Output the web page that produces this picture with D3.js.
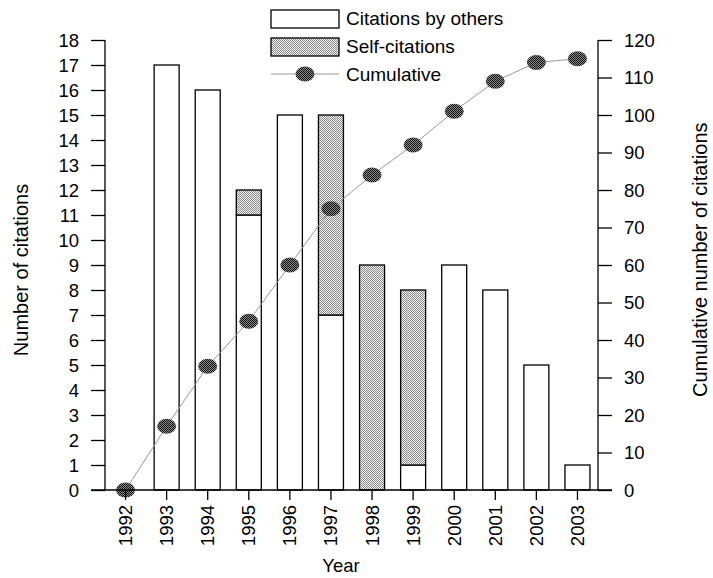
<!DOCTYPE html>
<html><head><meta charset="utf-8">
<script src="https://cdn.jsdelivr.net/npm/d3@7/dist/d3.min.js"></script>
<style>body{margin:0;background:#fff}svg{display:block}text{font-family:"Liberation Sans",Arial,sans-serif;fill:#000}</style>
</head><body>
<script>
const years = ["1992","1993","1994","1995","1996","1997","1998","1999","2000","2001","2002","2003"];
const byOthers = [0,17,16,11,15,7,0,1,9,8,5,1];
const selfCites = [0,0,0,1,0,8,9,7,0,0,0,0];
const cumulative = [0,17,33,45,60,75,84,92,101,109,114,115];
const leftTicks = d3.range(0,19);
const rightTicks = d3.range(0,121,10);

const W=713,H=578, L=105, R=598, T=40, B=490;
const svg=d3.select("body").append("svg").attr("width",W).attr("height",H);
const defs=svg.append("defs");
const hp=defs.append("pattern").attr("id","hatch").attr("width",2).attr("height",2).attr("patternUnits","userSpaceOnUse");
hp.append("rect").attr("width",2).attr("height",2).attr("fill","#f2f2f2");
hp.append("rect").attr("width",1).attr("height",1).attr("fill","#8a8a8a");
hp.append("rect").attr("x",1).attr("y",1).attr("width",1).attr("height",1).attr("fill","#8a8a8a");
const mp=defs.append("pattern").attr("id","mk").attr("width",2).attr("height",2).attr("patternUnits","userSpaceOnUse");
mp.append("rect").attr("width",2).attr("height",2).attr("fill","#8a8a8a");
mp.append("rect").attr("width",1).attr("height",1).attr("fill","#111");
mp.append("rect").attr("x",1).attr("y",1).attr("width",1).attr("height",1).attr("fill","#111");

const x=d3.scaleBand().domain(years).range([L,R]).padding(0);
const y=d3.scaleLinear().domain([0,18]).range([B,T]);
const y2=d3.scaleLinear().domain([0,120]).range([B,T]);
const bw=25;

const g=svg.append("g");
years.forEach((yr,i)=>{
  const cx=x(yr)+x.bandwidth()/2;
  if(byOthers[i]>0) g.append("rect").attr("x",cx-bw/2).attr("y",y(byOthers[i])).attr("width",bw).attr("height",y(0)-y(byOthers[i])).attr("fill","#fff").attr("stroke","#000").attr("stroke-width",1.3);
  if(selfCites[i]>0){const a=byOthers[i],b=a+selfCites[i];
    g.append("rect").attr("x",cx-bw/2).attr("y",y(b)).attr("width",bw).attr("height",y(a)-y(b)).attr("fill","url(#hatch)").attr("stroke","#000").attr("stroke-width",1.3);}
});

const line=d3.line().x((d,i)=>x(years[i])+x.bandwidth()/2).y(d=>y2(d));
svg.append("path").attr("d",line(cumulative)).attr("fill","none").attr("stroke","#999").attr("stroke-width",1);
svg.selectAll(".mk").data(cumulative).join("ellipse").attr("cx",(d,i)=>x(years[i])+x.bandwidth()/2).attr("cy",d=>y2(d)).attr("rx",9.5).attr("ry",7.5).attr("fill","url(#mk)");

function styleAxis(a){a.selectAll("path,line").attr("stroke","#000").attr("stroke-width",1.3);a.selectAll("text").style("font-size","18.5px").attr("fill","#000");}
const la=svg.append("g").attr("transform",`translate(${L},0)`).call(d3.axisLeft(y).tickValues(leftTicks).tickSize(14).tickSizeOuter(0).tickPadding(12));
styleAxis(la); la.select(".domain").attr("d",`M0,${T}V${B}`);
la.selectAll("text").attr("dy","0.35em");
const ra=svg.append("g").attr("transform",`translate(${R},0)`).call(d3.axisRight(y2).tickValues(rightTicks).tickSize(14).tickSizeOuter(0).tickPadding(12));
styleAxis(ra); ra.select(".domain").attr("d",`M0,${T}V${B}`);
ra.selectAll("text").attr("dy","0.35em");
const ba=svg.append("g").attr("transform",`translate(0,${B})`).call(d3.axisBottom(x).tickSize(10).tickSizeOuter(0));
styleAxis(ba); ba.select(".domain").attr("d",`M${L-14},0H${R+14}`);
ba.selectAll("text").attr("transform","rotate(-90)").attr("text-anchor","end").attr("x",-15).attr("y",0).attr("dy","0.35em");

svg.append("text").attr("transform","translate(28,270) rotate(-90)").attr("text-anchor","middle").style("font-size","20px").text("Number of citations");
svg.append("text").attr("transform","translate(707,397) rotate(-90)").attr("text-anchor","start").style("font-size","20px").text("Cumulative number of citations");
svg.append("text").attr("x",341).attr("y",572).attr("text-anchor","middle").style("font-size","18.5px").text("Year");

const lg=svg.append("g");
lg.append("rect").attr("x",271).attr("y",10).attr("width",68).attr("height",18).attr("fill","#fff").attr("stroke","#000").attr("stroke-width",1.3);
lg.append("rect").attr("x",271).attr("y",38).attr("width",68).attr("height",18).attr("fill","url(#hatch)").attr("stroke","#000").attr("stroke-width",1.3);
lg.append("line").attr("x1",271).attr("x2",339).attr("y1",74).attr("y2",74).attr("stroke","#999").attr("stroke-width",1);
lg.append("ellipse").attr("cx",305).attr("cy",74).attr("rx",9.5).attr("ry",7.5).attr("fill","url(#mk)");
[["Citations by others",25],["Self-citations",53],["Cumulative",81]].forEach(([t,yy])=>lg.append("text").attr("x",346).attr("y",yy).style("font-size","19px").text(t));
</script>
</body></html>
